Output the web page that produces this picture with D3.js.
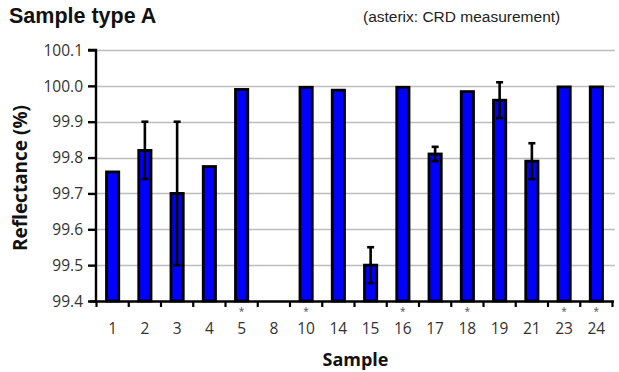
<!DOCTYPE html>
<html>
<head>
<meta charset="utf-8">
<script src="https://cdn.jsdelivr.net/npm/d3@7"></script>
<style>
  html, body { margin: 0; padding: 0; background: #fff; }
  svg { display: block; }
</style>
</head>
<body>
<svg id="chart" width="619" height="372"></svg>
<script>
// Sample identifiers along the x axis
const samples = ["1", "2", "3", "4", "5", "8", "10", "14", "15", "16", "17", "18", "19", "21", "23", "24"];
// Mean reflectance (%) per sample; null = no value shown
const reflectance = [99.76, 99.82, 99.70, 99.775, 99.99, null, 99.996, 99.988, 99.50, 99.996, 99.81, 99.984, 99.96, 99.79, 99.997, 99.997];
// Error bar limits (low / high), null = no error bar
const errLow  = [null, 99.74, 99.50, null, null, null, null, null, 99.45, null, 99.79, null, 99.91, 99.74, null, null];
const errHigh = [null, 99.90, 99.90, null, null, null, null, null, 99.55, null, 99.83, null, 100.01, 99.84, null, null];
// Samples measured by CRD (marked with an asterisk)
const crdSamples = ["5", "10", "16", "18", "23", "24"];
// Y axis tick values
const yTicks = [99.4, 99.5, 99.6, 99.7, 99.8, 99.9, 100.0, 100.1];

const svg = d3.select("#chart");
const margin = { left: 96, right: 4, top: 50, bottom: 71 };
const W = 619, H = 372;
const x0 = margin.left, x1 = W - margin.right;
const yTop = margin.top, yBot = H - margin.bottom;

const x = d3.scaleBand().domain(samples).range([x0 + 0.5, 612.5]).paddingInner(0.62).paddingOuter(0.31);
const xOuter = d3.scaleBand().domain(samples).range([x0 + 0.5, 612.5]);
const y = d3.scaleLinear().domain([99.4, 100.1]).range([yBot, yTop]);

const tickFont = "'Open Sans', 'DejaVu Sans', sans-serif";

// Horizontal gridlines
svg.append("g")
  .selectAll("line")
  .data(yTicks.slice(1))
  .join("line")
  .attr("x1", x0).attr("x2", x1)
  .attr("y1", d => Math.round(y(d)) + 0.5)
  .attr("y2", d => Math.round(y(d)) + 0.5)
  .attr("stroke", "#bdbdbd")
  .attr("stroke-width", 1.4);

// Bars
const rows = samples.map((s, i) => ({ s, v: reflectance[i], lo: errLow[i], hi: errHigh[i] }));
svg.append("g")
  .selectAll("rect")
  .data(rows.filter(d => d.v != null))
  .join("rect")
  .attr("x", d => x(d.s))
  .attr("width", x.bandwidth())
  .attr("y", d => y(d.v))
  .attr("height", d => yBot - y(d.v))
  .attr("fill", "#0000ff")
  .attr("stroke", "#000")
  .attr("stroke-width", 2.8);

// Error bars
const eb = svg.append("g").attr("stroke", "#000").attr("stroke-width", 2.6);
rows.filter(d => d.lo != null).forEach(d => {
  const cx = x(d.s) + x.bandwidth() / 2;
  eb.append("line").attr("x1", cx).attr("x2", cx).attr("y1", y(d.lo)).attr("y2", y(d.hi));
  eb.append("line").attr("x1", cx - 3.5).attr("x2", cx + 3.5).attr("y1", y(d.lo)).attr("y2", y(d.lo));
  eb.append("line").attr("x1", cx - 3.5).attr("x2", cx + 3.5).attr("y1", y(d.hi)).attr("y2", y(d.hi));
});

// Y axis
const yAxis = svg.append("g")
  .attr("transform", `translate(${x0},0)`)
  .call(d3.axisLeft(y).tickValues(yTicks).tickFormat(d3.format(".1f")).tickSize(8).tickPadding(5));
yAxis.select(".domain").attr("stroke", "#000").attr("stroke-width", 2.4).attr("d", `M-8,${yTop}H0V${yBot + 1}`);
yAxis.selectAll(".tick line").attr("stroke", "#000").attr("stroke-width", 2.4);
yAxis.selectAll(".tick text").attr("font-family", tickFont).attr("font-size", 15.5).attr("fill", "#333").attr("dy", "0.34em");

// X axis: line with ticks between categories
const xa = svg.append("g");
xa.append("line").attr("x1", x0 - 6).attr("x2", x1 - 1).attr("y1", yBot + 0.5).attr("y2", yBot + 0.5)
  .attr("stroke", "#000").attr("stroke-width", 2.4);
const boundaries = samples.map(s => xOuter(s)).concat([xOuter(samples[samples.length - 1]) + xOuter.bandwidth()]);
xa.selectAll("line.tk").data(boundaries).join("line").attr("class", "tk")
  .attr("x1", d => d).attr("x2", d => d)
  .attr("y1", yBot).attr("y2", yBot + 6)
  .attr("stroke", "#000").attr("stroke-width", 2.2);
xa.selectAll("text.lbl").data(samples).join("text").attr("class", "lbl")
  .attr("x", d => xOuter(d) + xOuter.bandwidth() / 2)
  .attr("y", 334)
  .attr("text-anchor", "middle")
  .attr("font-family", tickFont).attr("font-size", 15.5).attr("fill", "#333")
  .text(d => d);

// CRD asterisks
xa.selectAll("text.crd").data(crdSamples).join("text").attr("class", "crd")
  .attr("x", d => xOuter(d) + xOuter.bandwidth() / 2)
  .attr("y", 314.5)
  .attr("text-anchor", "middle")
  .attr("font-family", tickFont).attr("font-size", 10).attr("fill", "#4a5070")
  .text("*");

// Axis titles
svg.append("text")
  .attr("x", (x0 + x1) / 2).attr("y", 366)
  .attr("text-anchor", "middle")
  .attr("font-family", tickFont).attr("font-size", 18).attr("font-weight", "bold").attr("fill", "#111")
  .text("Sample");
svg.append("text")
  .attr("transform", "translate(27,178) rotate(-90)")
  .attr("text-anchor", "middle")
  .attr("font-family", tickFont).attr("font-size", 19).attr("font-weight", "bold").attr("fill", "#111")
  .text("Reflectance (%)");

// Titles
svg.append("text")
  .attr("x", 9).attr("y", 22.5)
  .attr("font-family", "Arial, 'Liberation Sans', sans-serif").attr("font-size", 21.5).attr("font-weight", "bold").attr("fill", "#111")
  .text("Sample type A");
svg.append("text")
  .attr("x", 363).attr("y", 21.5)
  .attr("font-family", "Arial, 'Liberation Sans', sans-serif").attr("font-size", 15.5).attr("fill", "#222")
  .text("(asterix: CRD measurement)");
</script>
</body>
</html>
